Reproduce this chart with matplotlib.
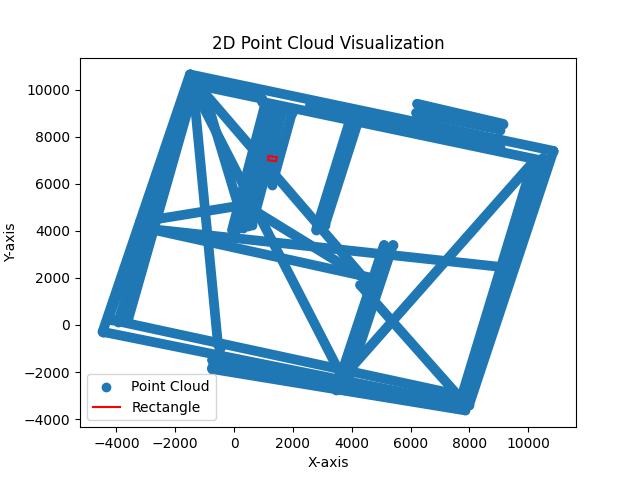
import matplotlib
matplotlib.use("Agg")
import matplotlib.pyplot as plt
from matplotlib.collections import LineCollection
import numpy as np

# Wall segments of the point cloud: ((x0, y0), (x1, y1)) in data units
top_walls = [
    ((-1500, 10650), (10860, 7400)),
    ((-1326, 10212), (952, 9616)),
    ((2584, 9361), (9044, 7574)),
    ((952, 9488), (10676, 6935)),
    ((6222, 9403), (9146, 8553)),
    ((6188, 9021), (9044, 8297)),
]
right_walls = [
    ((10860, 7400), (7990, -3400)),
    ((10506, 7106), (7888, -3191)),
    ((10132, 6808), (7752, -2979)),
]
bottom_walls = [
    ((-4470, -290), (7888, -3404)),
    ((-748, -1872), (7854, -3630)),
    ((-748, -1489), (7854, -3361)),
    ((-408, -851), (-748, -1830)),
    ((-4148, 213), (7684, -2979)),
]
left_walls = [
    ((-1500, 10650), (-4470, -290)),
    ((-1326, 10212), (-3604, 213)),
    ((-1394, 10425), (-4284, 213)),
    ((-1360, 10340), (-3944, 128)),
]
inner_walls = [
    ((-3196, 4127), (9384, 2425)),
    ((-3196, 4170), (4692, 2000)),
    ((-3196, 4383), (374, 5106)),
    ((374, 5106), (4692, 1787)),
    ((1054, 9361), (-68, 4042)),
    ((1224, 9361), (102, 4085)),
    ((1394, 9318), (306, 4127)),
    ((1530, 9233), (476, 4212)),
    ((1666, 9148), (612, 4255)),
    ((1972, 9021), (1292, 5957)),
    ((3944, 8723), (2788, 4042)),
    ((4216, 8638), (3094, 4255)),
    ((5100, 3404), (3468, -2766)),
    ((5406, 3404), (3774, -2766)),
]
diagonals = [
    ((-1394, 10212), (-544, -851)),
    ((-986, 9786), (136, 5106)),
    ((-1292, 9871), (3672, -2213)),
    ((-1156, 10084), (4556, 1787)),
    ((4284, 1702), (7752, -3191)),
    ((3706, -2213), (10234, 7021)),
]
rect_x = [1180, 1460, 1430, 1150, 1180]
rect_y = [7180, 7130, 6960, 7010, 7180]

segments = top_walls + right_walls + bottom_walls + left_walls + inner_walls + diagonals
color = '#1f77b4'

fig, ax = plt.subplots(figsize=(6.4, 4.8), dpi=100)
lc = LineCollection(segments, colors=color, linewidths=7, capstyle='round', joinstyle='round')
ax.add_collection(lc, autolim=False)
pts = np.array([p for s in segments for p in s])
ax.scatter(pts[:, 0], pts[:, 1], color=color, label='Point Cloud')
ax.plot(rect_x, rect_y, color='red', label='Rectangle')
ax.set_title('2D Point Cloud Visualization')
ax.set_xlabel('X-axis')
ax.set_ylabel('Y-axis')
ax.legend(loc='lower left')
fig.savefig('out.png')
